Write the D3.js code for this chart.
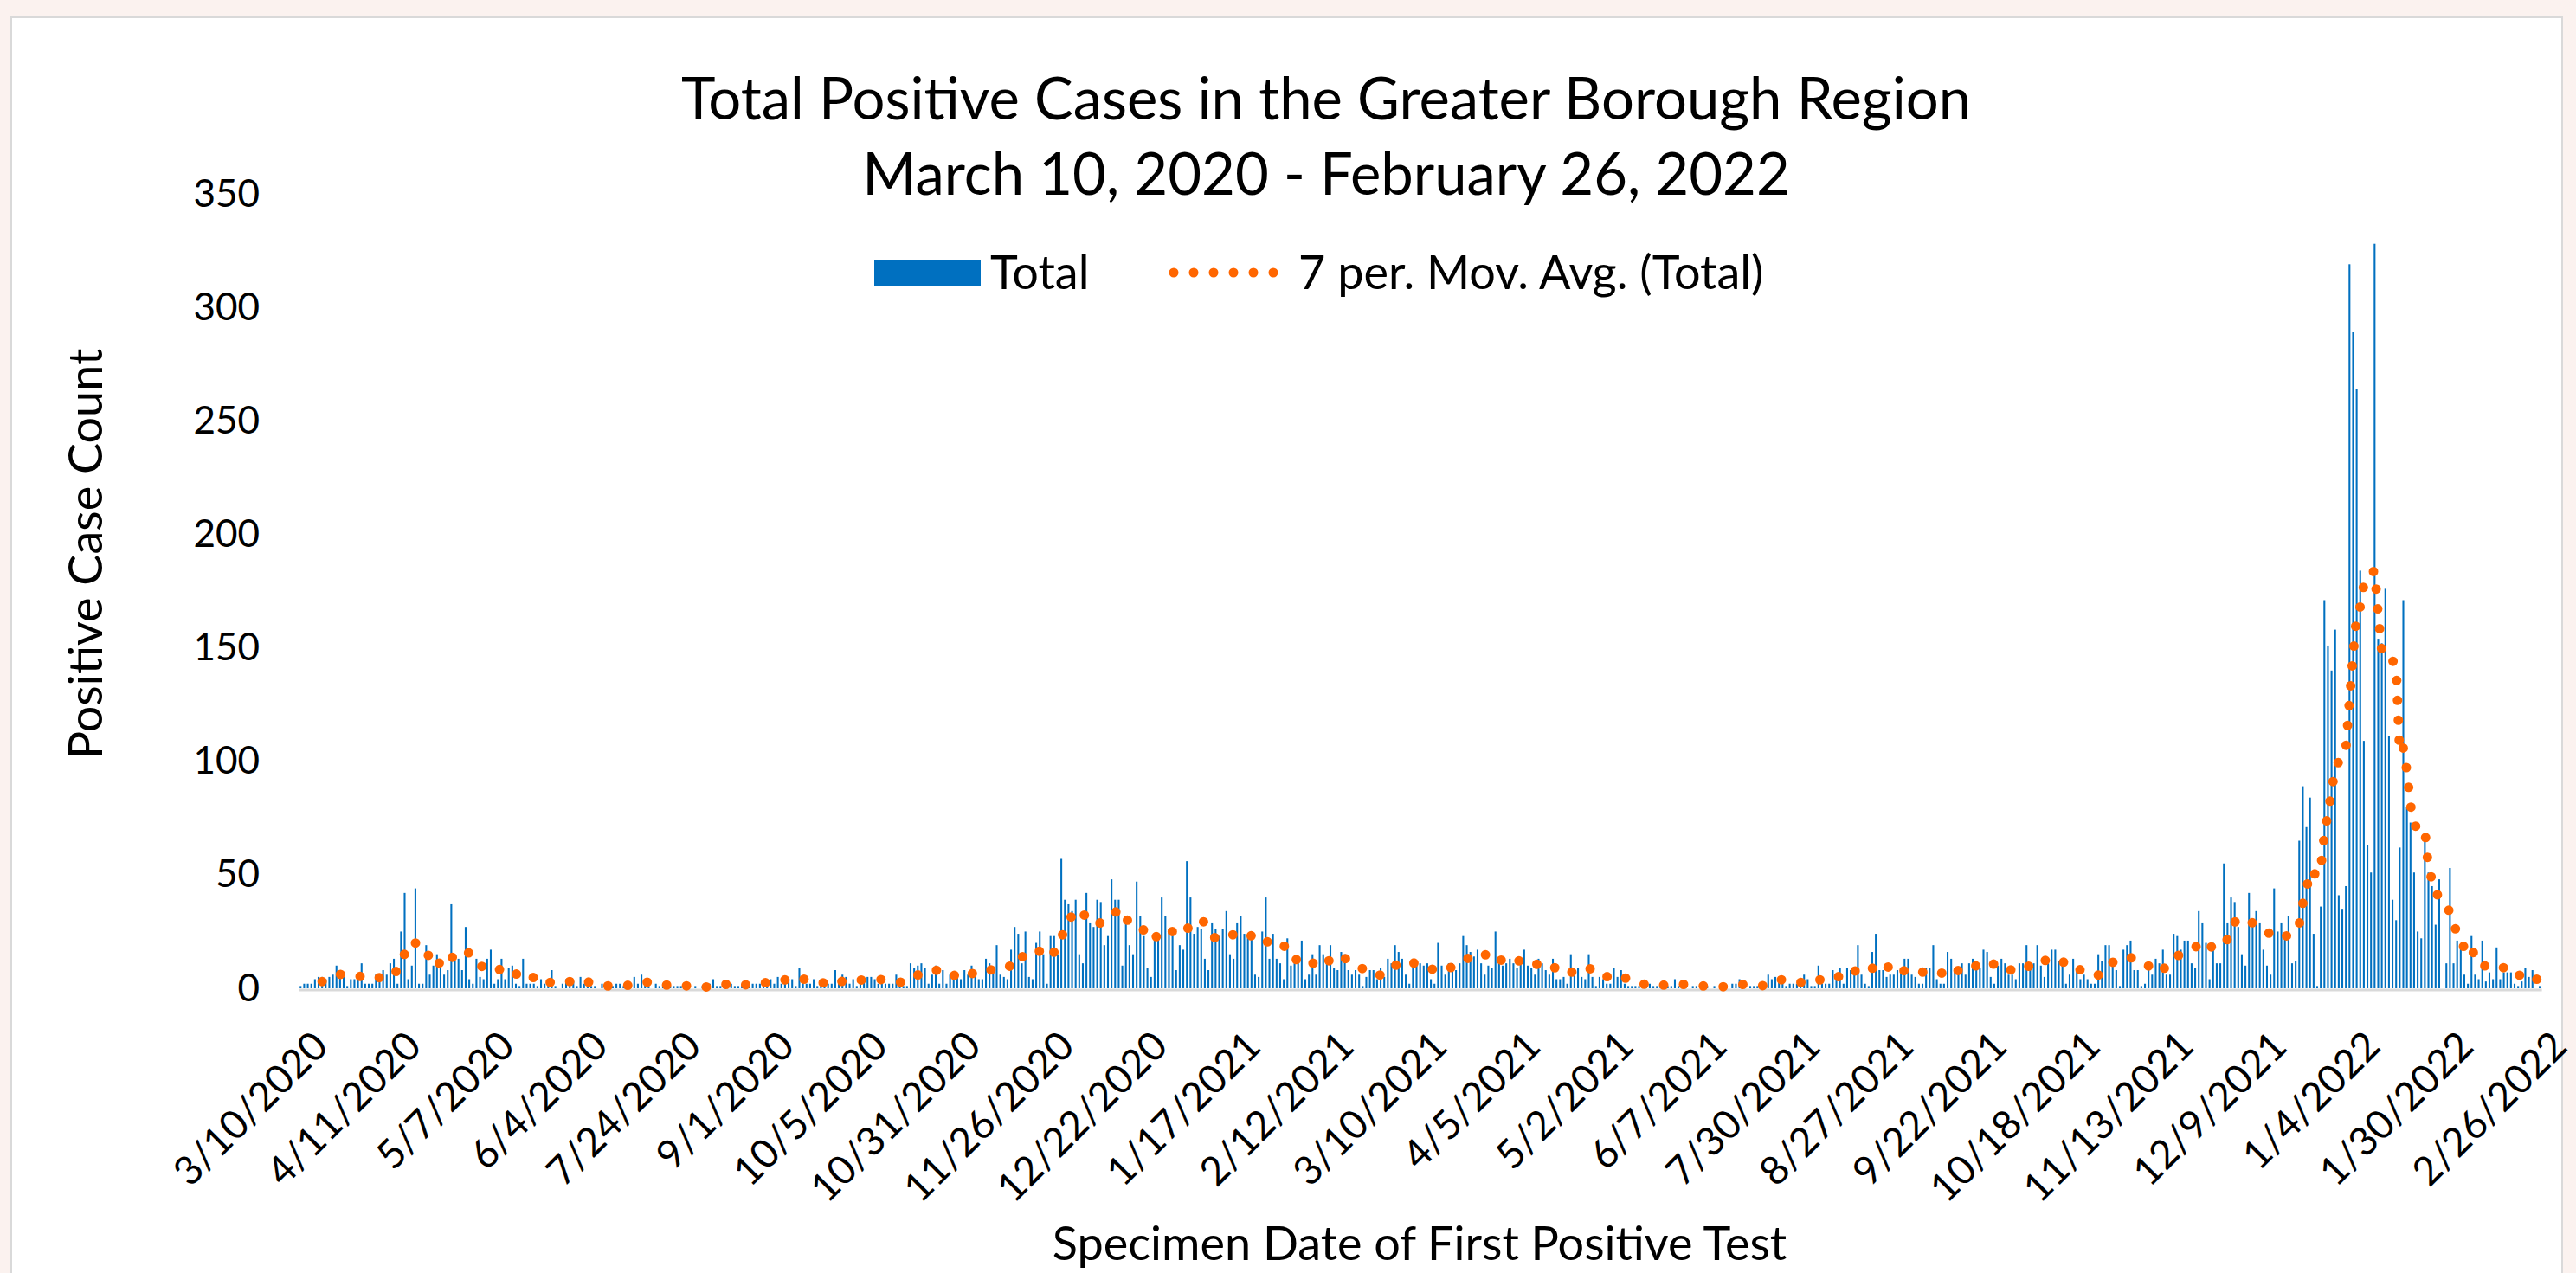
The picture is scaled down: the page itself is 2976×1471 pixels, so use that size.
<!DOCTYPE html>
<html>
<head>
<meta charset="utf-8">
<script src="https://cdn.jsdelivr.net/npm/d3@7"></script>
<style>
  html, body { margin: 0; padding: 0; background: #fbf2ef; }
  svg { display: block; font-family: Lato, 'Liberation Sans', sans-serif; }
</style>
</head>
<body>
<svg id="chart" width="2976" height="1471"></svg>
<script>
'use strict'

/**
 *  Daily positive cases with a 7 period moving average trendline
 */

// category axis labels, shown every 26 specimen dates
const tickLabels = [
  '3/10/2020', '4/11/2020', '5/7/2020', '6/4/2020', '7/24/2020', '9/1/2020',
  '10/5/2020', '10/31/2020', '11/26/2020', '12/22/2020', '1/17/2021', '2/12/2021',
  '3/10/2021', '4/5/2021', '5/2/2021', '6/7/2021', '7/30/2021', '8/27/2021',
  '9/22/2021', '10/18/2021', '11/13/2021', '12/9/2021', '1/4/2022', '1/30/2022',
  '2/26/2022',
]

// one value per specimen date, each row starts at a labelled date
const total = [
  1, 2, 2, 2, 4, 5, 5, 4, 5, 6, 10, 8, 5, 1, 4, 4, 4, 11, 2, 2, 2, 6, 6, 8, 6, 11,
  13, 2, 25, 42, 4, 10, 44, 2, 2, 19, 6, 10, 15, 12, 6, 8, 37, 12, 13, 8, 27, 4, 2, 13, 5, 4,
  13, 17, 2, 4, 13, 4, 9, 10, 2, 1, 13, 2, 2, 2, 1, 4, 2, 2, 8, 1, 0, 2, 4, 4, 3, 1,
  5, 2, 1, 1, 1, 0, 2, 1, 1, 1, 2, 2, 1, 1, 2, 5, 2, 6, 2, 1, 0, 2, 1, 2, 2, 1,
  1, 1, 1, 0, 1, 0, 1, 0, 1, 1, 2, 4, 1, 1, 2, 1, 2, 1, 1, 2, 2, 2, 2, 2, 2, 4,
  4, 4, 2, 5, 2, 5, 4, 4, 1, 9, 3, 2, 2, 4, 1, 1, 1, 2, 2, 8, 2, 6, 5, 2, 4, 1,
  5, 4, 5, 5, 4, 2, 2, 2, 2, 2, 6, 3, 1, 1, 11, 9, 10, 11, 9, 2, 6, 10, 2, 8, 2, 6,
  6, 5, 4, 8, 6, 10, 8, 4, 4, 13, 11, 8, 19, 6, 5, 4, 17, 27, 24, 11, 25, 5, 4, 20, 25, 15,
  2, 23, 23, 15, 57, 39, 37, 34, 39, 15, 11, 42, 29, 27, 39, 38, 19, 23, 48, 39, 39, 10, 32, 19, 15, 47,
  32, 23, 9, 5, 24, 24, 40, 32, 26, 25, 8, 19, 17, 56, 40, 24, 27, 26, 13, 8, 29, 26, 23, 26, 34, 15,
  13, 29, 32, 24, 23, 25, 6, 5, 25, 40, 13, 24, 13, 11, 4, 22, 10, 11, 11, 21, 4, 6, 15, 6, 19, 15,
  11, 19, 9, 8, 16, 15, 8, 6, 8, 6, 1, 5, 8, 8, 4, 9, 5, 13, 11, 19, 16, 13, 6, 2, 11, 10,
  11, 10, 11, 4, 2, 20, 10, 6, 11, 11, 8, 11, 23, 19, 16, 14, 17, 11, 6, 10, 9, 25, 13, 10, 11, 13,
  11, 9, 11, 17, 10, 9, 6, 13, 11, 8, 6, 13, 4, 4, 5, 2, 15, 9, 9, 5, 4, 15, 5, 1, 5, 4,
  2, 2, 9, 5, 8, 2, 1, 1, 1, 1, 1, 2, 2, 1, 1, 1, 2, 1, 1, 4, 1, 2, 1, 0, 1, 1,
  2, 0, 1, 0, 1, 0, 1, 2, 0, 2, 2, 4, 1, 0, 1, 1, 1, 1, 2, 6, 4, 5, 5, 4, 1, 2,
  2, 2, 2, 6, 4, 1, 1, 10, 2, 2, 2, 8, 6, 9, 2, 9, 8, 9, 19, 6, 2, 1, 16, 24, 8, 8,
  5, 6, 6, 8, 9, 13, 13, 6, 5, 2, 2, 9, 9, 19, 4, 2, 2, 16, 13, 8, 9, 11, 6, 11, 13, 11,
  9, 17, 16, 5, 2, 10, 13, 11, 6, 6, 4, 11, 11, 19, 11, 11, 19, 10, 5, 11, 17, 17, 12, 11, 2, 6,
  13, 8, 4, 6, 4, 2, 2, 15, 12, 19, 19, 11, 8, 1, 17, 19, 21, 8, 8, 1, 2, 10, 6, 13, 11, 17,
  6, 6, 24, 23, 17, 21, 21, 11, 9, 34, 29, 20, 4, 20, 11, 11, 55, 29, 40, 38, 27, 15, 10, 42, 30, 34,
  29, 17, 10, 6, 44, 25, 29, 24, 32, 11, 12, 65, 89, 71, 84, 24, 1, 36, 171, 151, 140, 158, 41, 35, 45, 319,
  289, 264, 184, 109, 63, 51, 328, 154, 152, 176, 111, 39, 30, 62, 171, 80, 73, 51, 25, 22, 68, 51, 45, 28, 48, 0,
  11, 53, 11, 21, 18, 6, 2, 23, 6, 4, 21, 3, 7, 4, 18, 4, 7, 7, 7, 2, 1, 3, 9, 5, 8, 0,
  1,
]

const yTicks = [0, 50, 100, 150, 200, 250, 300, 350]
const period = 7
const blue = '#0070c0'
const orange = '#ff6600'

const svg = d3.select('#chart')

// white chart area on the tinted page
svg.append('rect')
  .attr('x', 13)
  .attr('y', 20)
  .attr('width', 2947)
  .attr('height', 1470)
  .attr('fill', '#fff')
  .attr('stroke', '#d9d9d9')
  .attr('stroke-width', 2)

const x = d3.scaleBand()
  .domain(d3.range(total.length))
  .range([345.2, 2936.1])
  .paddingInner(0.5)
  .paddingOuter(0.25)

const y = d3.scaleLinear()
  .domain([0, 350])
  .range([1142, 224])

// category axis
svg.append('g')
  .attr('transform', 'translate(0,1143.5)')
  .call(d3.axisBottom(x)
    .tickValues(d3.range(0, total.length, 26))
    .tickFormat((d, i) => tickLabels[i])
    .tickSize(0))
  .call(g => g.select('.domain').attr('stroke', '#d9d9d9').attr('stroke-width', 3))
  .attr('font-family', null)
  .attr('font-size', 46)
  .selectAll('text')
  .attr('fill', '#000')
  .attr('x', 0)
  .attr('y', 0)
  .attr('dy', null)
  .attr('text-anchor', 'end')
  .attr('transform', 'translate(34,68) rotate(-45)')

// value axis, labels only
svg.append('g')
  .attr('transform', 'translate(345,0)')
  .call(d3.axisLeft(y).tickValues(yTicks).tickSize(0).tickPadding(45))
  .call(g => g.select('.domain').remove())
  .attr('font-family', null)
  .attr('font-size', 44)
  .selectAll('text')
  .attr('fill', '#000')

svg.append('g')
  .selectAll('rect')
  .data(total)
  .join('rect')
  .attr('x', (d, i) => x(i))
  .attr('y', (d) => y(d))
  .attr('width', x.bandwidth())
  .attr('height', (d) => y(0) - y(d))
  .attr('fill', blue)

// trailing moving average, as the trendline does it
const movAvg = total.map((d, i) => {
  return i < period - 1 ? null : d3.mean(total.slice(i - period + 1, i + 1))
})

const dotted = (sel) => sel
  .attr('fill', 'none')
  .attr('stroke', orange)
  .attr('stroke-width', 11)
  .attr('stroke-linecap', 'round')
  .attr('stroke-dasharray', '0 23')

svg.append('path')
  .datum(movAvg)
  .attr('d', d3.line()
    .defined((d) => d != null)
    .x((d, i) => x(i) + x.bandwidth() / 2)
    .y((d) => y(d)))
  .call(dotted)

// titles
const title = svg.append('g')
  .attr('text-anchor', 'middle')
  .attr('font-size', 67)
  .attr('fill', '#000')
title.append('text').attr('x', 1532).attr('y', 138)
  .text('Total Positive Cases in the Greater Borough Region')
title.append('text').attr('x', 1532).attr('y', 225)
  .text('March 10, 2020 - February 26, 2022')

svg.append('text')
  .attr('x', 1640)
  .attr('y', 1456)
  .attr('text-anchor', 'middle')
  .attr('font-size', 54)
  .text('Specimen Date of First Positive Test')

svg.append('text')
  .attr('transform', 'translate(118,640) rotate(-90)')
  .attr('text-anchor', 'middle')
  .attr('font-size', 54)
  .text('Positive Case Count')

// legend
const legend = svg.append('g').attr('font-size', 54)
legend.append('rect')
  .attr('x', 1010)
  .attr('y', 300)
  .attr('width', 123)
  .attr('height', 31)
  .attr('fill', blue)
legend.append('text').attr('x', 1144).attr('y', 334).text('Total')
legend.append('path')
  .attr('d', 'M1356,315H1488')
  .call(dotted)
legend.append('text').attr('x', 1500).attr('y', 334).text('7 per. Mov. Avg. (Total)')
</script>
</body>
</html>
